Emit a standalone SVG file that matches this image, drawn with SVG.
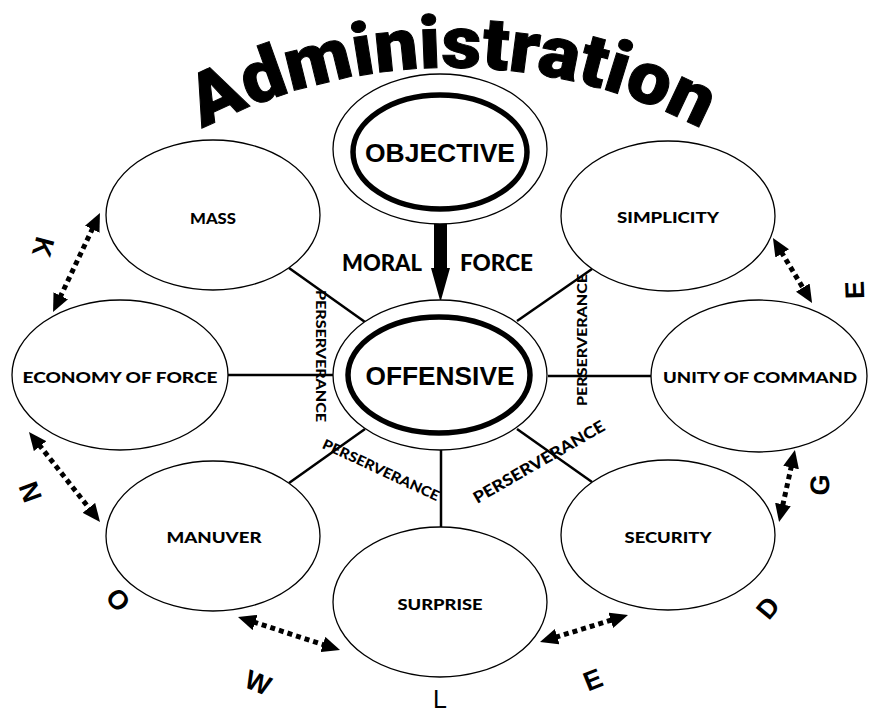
<svg xmlns="http://www.w3.org/2000/svg" width="870" height="714" viewBox="0 0 870 714">
<style>
.n{fill:#fff;stroke:#000;stroke-width:1.3}
.in{fill:none;stroke:#000;stroke-width:5.5}
.lbl{font-family:Lato,"DejaVu Sans",sans-serif;font-weight:900;font-size:15px;text-anchor:middle;fill:#000}
.big{font-family:"Liberation Sans",Arial,sans-serif;font-weight:bold;font-size:26px;text-anchor:middle;fill:#000}
.mf{font-family:Lato,"DejaVu Sans",sans-serif;font-weight:900;font-size:22px;text-anchor:middle;fill:#000}
.per{font-family:Lato,"DejaVu Sans",sans-serif;font-weight:900;font-size:13px;text-anchor:middle;fill:#000}
.kl{font-family:"Liberation Sans",Arial,sans-serif;font-weight:bold;font-size:27px;text-anchor:middle;fill:#000}
.ln{stroke:#000;stroke-width:2.5;fill:none}
.dd{stroke:#000;stroke-width:5;stroke-dasharray:5 4;fill:none;marker-start:url(#ah);marker-end:url(#ah)}
.title{font-family:Roboto,"Liberation Sans",Arial,sans-serif;font-weight:900;font-size:73px;fill:#000;stroke:#000;stroke-width:1}
</style>
<defs>
<marker id="ah" viewBox="0 0 18 16" refX="2" refY="8" markerWidth="18" markerHeight="16" markerUnits="userSpaceOnUse" orient="auto-start-reverse">
<path d="M0,0 L18,8 L0,16 Z" fill="#000"/>
</marker>
<path id="arc" d="M70,226 A540,540 0 0 1 834,226"/>
</defs>
<rect width="870" height="714" fill="#fff"/>

<g id="title">
<text class="title"><textPath href="#arc" startOffset="50%" text-anchor="middle" textLength="519" lengthAdjust="spacingAndGlyphs">Administration</textPath></text>
</g>

<g id="connectors">
<line class="ln" x1="289" y1="268" x2="365" y2="322"/>
<line class="ln" x1="592" y1="269" x2="517" y2="321"/>
<line class="ln" x1="227" y1="375" x2="333" y2="375"/>
<line class="ln" x1="548" y1="376" x2="651" y2="376"/>
<line class="ln" x1="289" y1="483" x2="365" y2="429"/>
<line class="ln" x1="517" y1="429" x2="592" y2="482"/>
<line class="ln" x1="441" y1="450" x2="441" y2="527"/>
<path d="M434,223 L447,223 L447,268 L450,268 L440.5,302 L431,268 L434,268 Z" fill="#000"/>
<line class="dd" x1="59.9" y1="297.6" x2="93.1" y2="227.4"/>
<line class="dd" x1="38.9" y1="444.6" x2="90.1" y2="509.4"/>
<line class="dd" x1="253.2" y1="621.9" x2="324.8" y2="645.1"/>
<line class="dd" x1="555.3" y1="637.3" x2="612.7" y2="619.7"/>
<line class="dd" x1="791.5" y1="465.6" x2="782.5" y2="506.4"/>
<line class="dd" x1="781.2" y1="251.7" x2="803.8" y2="289.3"/>
</g>

<g id="objective">
<ellipse class="n" cx="440" cy="149" rx="107" ry="75"/>
<ellipse class="in" cx="440" cy="152" rx="87" ry="57"/>
<text class="big" x="440" y="162" textLength="150" lengthAdjust="spacingAndGlyphs">OBJECTIVE</text>
</g>
<g id="offensive">
<ellipse class="n" cx="440" cy="375" rx="107" ry="75"/>
<ellipse class="in" cx="439" cy="375" rx="91" ry="58"/>
<text class="big" x="440" y="385" textLength="149" lengthAdjust="spacingAndGlyphs">OFFENSIVE</text>
</g>
<g id="mass">
<ellipse class="n" cx="213" cy="215" rx="107" ry="75"/>
<text class="lbl" x="213" y="224" textLength="46" lengthAdjust="spacingAndGlyphs">MASS</text>
</g>
<g id="simplicity">
<ellipse class="n" cx="668" cy="216" rx="107" ry="75"/>
<text class="lbl" x="668" y="223" textLength="102" lengthAdjust="spacingAndGlyphs">SIMPLICITY</text>
</g>
<g id="economy">
<ellipse class="n" cx="120" cy="375" rx="108" ry="75"/>
<text class="lbl" x="120" y="383" textLength="195" lengthAdjust="spacingAndGlyphs">ECONOMY OF FORCE</text>
</g>
<g id="unity">
<ellipse class="n" cx="759" cy="376" rx="108" ry="76"/>
<text class="lbl" x="760" y="383" textLength="194" lengthAdjust="spacingAndGlyphs">UNITY OF COMMAND</text>
</g>
<g id="manuver">
<ellipse class="n" cx="213" cy="536" rx="107" ry="75"/>
<text class="lbl" x="214" y="543" textLength="95" lengthAdjust="spacingAndGlyphs">MANUVER</text>
</g>
<g id="security">
<ellipse class="n" cx="668" cy="535" rx="107" ry="75"/>
<text class="lbl" x="668" y="543" textLength="87" lengthAdjust="spacingAndGlyphs">SECURITY</text>
</g>
<g id="surprise">
<ellipse class="n" cx="440" cy="602" rx="107" ry="75"/>
<text class="lbl" x="440" y="610" textLength="85" lengthAdjust="spacingAndGlyphs">SURPRISE</text>
</g>

<g id="labels">
<text class="mf" x="382" y="271" textLength="80" lengthAdjust="spacingAndGlyphs">MORAL</text>
<text class="mf" x="496.5" y="271" textLength="73" lengthAdjust="spacingAndGlyphs">FORCE</text>
<text class="per" transform="translate(320,356) rotate(90)" y="4.5" textLength="132" lengthAdjust="spacingAndGlyphs">PERSERVERANCE</text>
<text class="per" transform="translate(582,340) rotate(-90)" y="4.5" textLength="132" lengthAdjust="spacingAndGlyphs">PERSERVERANCE</text>
<text class="per" style="font-size:14px" transform="translate(381,470) rotate(25)" y="5" textLength="127" lengthAdjust="spacingAndGlyphs">PERSERVERANCE</text>
<text class="per" style="font-size:16px" transform="translate(539,462) rotate(-30)" y="5.5" textLength="149" lengthAdjust="spacingAndGlyphs">PERSERVERANCE</text>
</g>

<g id="knowledge">
<text class="kl" transform="translate(43,247) rotate(105)" y="9">K</text>
<text class="kl" transform="translate(30,492) rotate(70)" y="9">N</text>
<text class="kl" transform="translate(118,600) rotate(50)" y="9">O</text>
<text class="kl" transform="translate(258,683) rotate(22)" y="9">W</text>
<text class="kl" style="font-weight:normal;font-size:25px" transform="translate(440,699)" y="9">L</text>
<text class="kl" transform="translate(593,680) rotate(-22)" y="9">E</text>
<text class="kl" transform="translate(768,608) rotate(-50)" y="9">D</text>
<text class="kl" transform="translate(820,485) rotate(-88)" y="9">G</text>
<text class="kl" transform="translate(855,290) rotate(-92)" y="9">E</text>
</g>
</svg>
